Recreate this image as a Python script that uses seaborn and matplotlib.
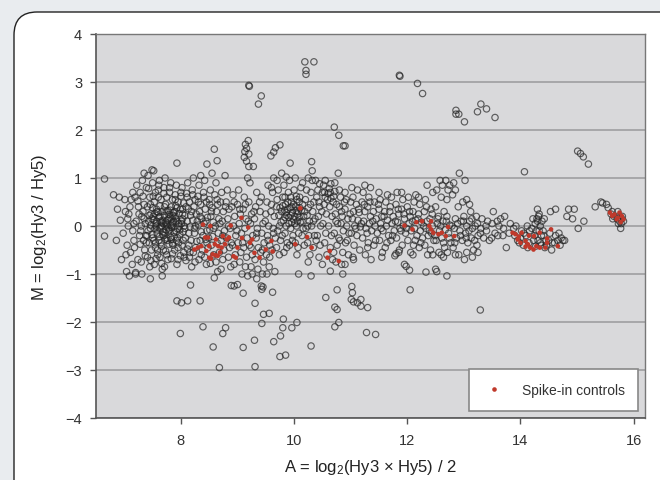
import pandas as pd
import matplotlib.pyplot as plt
import seaborn as sns
from matplotlib.patches import FancyBboxPatch
from matplotlib.lines import Line2D

# -----------------------------
# Data: (A, M) pairs
# -----------------------------
core_pts = [
    (6.88, 0.35), (6.93, 0.12), (6.86, -0.3), (6.95, -0.7), (6.91, 0.6),
    (7.02, 0.3), (6.98, -0.15), (7.05, -0.4), (7.01, 0.55), (7.04, -0.95), (7.07, 0.0),
    (7.12, 0.55), (7.08, 0.25), (7.15, -0.1), (7.11, -0.55), (7.14, -0.8), (7.17, 0.05), (7.1, 0.4),
    (7.22, 0.85), (7.19, 0.6), (7.25, 0.4), (7.21, 0.1), (7.27, -0.2), (7.18, -0.45), (7.24, -0.7),
    (7.26, 0.25), (7.2, -1.0),
    (7.32, 0.95), (7.28, 0.7), (7.35, 0.45), (7.31, 0.2), (7.37, 0.05), (7.29, -0.1), (7.34, -0.3),
    (7.36, -0.5), (7.3, -0.75), (7.33, 0.3), (7.38, -0.2),
    (7.42, 1.05), (7.39, 0.8), (7.45, 0.6), (7.41, 0.4), (7.47, 0.25), (7.43, 0.1), (7.46, -0.05),
    (7.4, -0.2), (7.44, -0.35), (7.48, -0.5), (7.41, -0.65), (7.45, -0.85), (7.49, 0.15), (7.42, -0.1),
    (7.52, 1.15), (7.5, 0.9), (7.55, 0.7), (7.53, 0.5), (7.57, 0.35), (7.51, 0.2), (7.56, 0.05),
    (7.54, -0.05), (7.58, -0.15), (7.52, -0.3), (7.55, -0.45), (7.59, -0.6), (7.53, -0.8),
    (7.57, 0.1), (7.5, -0.25), (7.56, 0.0), (7.58, 0.3),
    (7.62, 0.95), (7.6, 0.75), (7.65, 0.55), (7.63, 0.42), (7.67, 0.3), (7.61, 0.18), (7.66, 0.08),
    (7.64, -0.02), (7.68, -0.12), (7.62, -0.22), (7.65, -0.35), (7.69, -0.5), (7.63, -0.65),
    (7.67, -0.9), (7.6, 0.6), (7.66, 0.0), (7.61, -0.3), (7.68, 0.12),
    (7.72, 1.0), (7.7, 0.8), (7.75, 0.6), (7.73, 0.45), (7.77, 0.32), (7.71, 0.22), (7.76, 0.12),
    (7.74, 0.04), (7.78, -0.04), (7.72, -0.14), (7.75, -0.25), (7.79, -0.38), (7.73, -0.52),
    (7.77, -0.7), (7.71, -0.85), (7.76, 0.0), (7.7, -0.2), (7.78, 0.15), (7.74, 0.3),
    (7.82, 0.9), (7.8, 0.7), (7.85, 0.55), (7.83, 0.4), (7.87, 0.28), (7.81, 0.17), (7.86, 0.07),
    (7.84, -0.03), (7.88, -0.13), (7.82, -0.24), (7.85, -0.36), (7.89, -0.5), (7.83, -0.68),
    (7.87, 0.1), (7.8, -0.08), (7.86, 0.22), (7.84, 0.0),
    (7.92, 0.85), (7.9, 0.65), (7.95, 0.5), (7.93, 0.38), (7.97, 0.26), (7.91, 0.15), (7.96, 0.05),
    (7.94, -0.06), (7.98, -0.17), (7.92, -0.3), (7.95, -0.45), (7.99, -0.62), (7.93, -0.8),
    (7.97, 0.0), (7.9, 0.2),
    (8.02, 0.8), (8.0, 0.62), (8.05, 0.48), (8.03, 0.35), (8.07, 0.22), (8.01, 0.1), (8.06, 0.0),
    (8.04, -0.12), (8.08, -0.25), (8.02, -0.4), (8.05, -0.55), (8.09, -0.72), (8.03, 0.15), (8.07, -0.05),
    (8.12, 0.9), (8.1, 0.68), (8.15, 0.5), (8.13, 0.36), (8.17, 0.22), (8.11, 0.1), (8.16, -0.02),
    (8.14, -0.15), (8.18, -0.3), (8.12, -0.48), (8.15, -0.65), (8.19, -0.85),
    (8.22, 1.0), (8.2, 0.75), (8.25, 0.55), (8.23, 0.4), (8.27, 0.25), (8.21, 0.12), (8.26, 0.0),
    (8.24, -0.15), (8.28, -0.32), (8.22, -0.55), (8.25, -0.75),
    (8.32, 0.85), (8.3, 0.62), (8.35, 0.45), (8.33, 0.3), (8.37, 0.15), (8.31, 0.02), (8.36, -0.12),
    (8.34, -0.3), (8.38, -0.5), (8.32, -0.7), (8.35, 1.05),
    (8.42, 0.95), (8.4, 0.7), (8.45, 0.5), (8.43, 0.35), (8.47, 0.18), (8.41, 0.05), (8.46, -0.1),
    (8.44, -0.28), (8.48, -0.45), (8.42, -0.65), (8.45, -0.8),
    (8.52, 0.75), (8.5, 0.55), (8.55, 0.38), (8.53, 0.2), (8.57, 0.08), (8.51, -0.08), (8.56, -0.22),
    (8.54, -0.4), (8.58, -0.6), (8.52, -0.78), (8.55, 1.1),
]

core_dense = [
    (7.47, 0.02), (7.52, 0.12), (7.58, -0.08), (7.63, 0.2), (7.68, -0.18), (7.73, 0.08), (7.79, -0.1),
    (7.84, 0.15), (7.88, -0.22), (7.93, 0.1), (7.98, -0.08), (8.03, 0.25), (7.5, 0.38), (7.55, -0.35),
    (7.6, 0.28), (7.66, -0.42), (7.71, 0.4), (7.76, -0.3), (7.81, 0.33), (7.86, -0.4), (7.91, 0.42),
    (7.96, -0.35), (8.01, 0.05), (7.44, 0.22), (7.49, -0.18), (7.54, 0.26), (7.59, -0.5), (7.64, 0.1),
    (7.69, 0.05), (7.74, -0.08), (7.79, 0.24), (7.83, -0.28), (7.89, 0.3), (7.94, -0.25), (7.99, 0.35),
    (8.04, -0.3), (7.62, -0.05), (7.72, -0.28), (7.82, 0.02), (7.92, -0.12),
    (7.24, 0.52), (7.28, -0.38), (7.33, 0.62), (7.37, -0.62), (7.43, 0.78), (7.47, -0.72), (7.51, 0.62),
    (7.56, -0.68), (7.61, 0.85), (7.66, -0.78), (7.7, 0.68), (7.75, -0.6), (7.8, 0.8), (7.85, -0.58),
    (7.9, 0.55), (7.95, -0.7), (8.0, 0.7), (8.06, -0.65), (8.11, 0.6), (8.16, -0.55), (8.21, 0.65),
    (8.26, -0.45), (8.31, 0.5), (8.36, -0.6), (8.41, 0.6), (8.46, -0.35), (8.51, 0.45), (7.3, 0.0),
    (7.35, 0.15), (7.39, -0.35), (7.46, 0.45), (8.09, 0.4), (8.14, -0.4), (8.19, 0.3), (8.24, -0.05),
    (8.29, 0.1), (8.34, 0.2), (8.39, -0.2), (8.44, 0.1), (8.49, -0.25), (8.54, 0.3), (8.58, -0.05),
    (7.15, 0.7), (7.17, -0.3), (7.06, 0.15), (7.03, -0.6),
]

mid_pts = [
    (8.62, 0.9), (8.6, 0.65), (8.65, 0.45), (8.63, 0.3), (8.67, 0.15), (8.61, 0.0), (8.66, -0.15),
    (8.64, -0.35), (8.68, -0.55), (8.62, -0.75), (8.65, -0.95),
    (8.72, 0.7), (8.7, 0.5), (8.75, 0.3), (8.73, 0.1), (8.77, -0.1), (8.71, -0.3), (8.76, -0.5),
    (8.74, -0.7), (8.78, 1.05),
    (8.82, 0.75), (8.8, 0.5), (8.85, 0.35), (8.83, 0.15), (8.87, -0.05), (8.81, -0.25), (8.86, -0.45),
    (8.84, -0.65), (8.88, -0.85),
    (8.92, 0.65), (8.9, 0.4), (8.95, 0.2), (8.93, 0.0), (8.97, -0.2), (8.91, -0.4), (8.96, -0.6), (8.94, -0.8),
    (9.02, 0.75), (9.0, 0.45), (9.05, 0.25), (9.03, 0.05), (9.07, -0.15), (9.01, -0.35), (9.06, -0.55),
    (9.04, -0.75), (9.08, -1.0),
    (9.12, 0.6), (9.1, 0.35), (9.15, 0.15), (9.13, -0.05), (9.17, -0.25), (9.11, -0.45), (9.16, -0.65),
    (9.14, -0.85), (9.18, 1.0),
    (9.22, 0.9), (9.2, 0.5), (9.25, 0.25), (9.23, 0.05), (9.27, -0.2), (9.21, -0.4), (9.26, -0.6), (9.24, -0.85),
    (9.32, 0.4), (9.3, 0.15), (9.35, -0.05), (9.33, -0.25), (9.37, -0.45), (9.31, -0.7), (9.36, -0.9), (9.34, 0.7),
    (9.42, 0.6), (9.4, 0.3), (9.45, 0.05), (9.43, -0.15), (9.47, -0.35), (9.41, -0.55), (9.46, -0.75), (9.44, -1.0),
    (9.52, 0.5), (9.5, 0.25), (9.55, 0.0), (9.53, -0.2), (9.57, -0.4), (9.51, -0.6), (9.56, -0.85), (9.54, 0.85),
    (9.62, 0.7), (9.6, 0.45), (9.65, 0.2), (9.63, -0.05), (9.67, -0.25), (9.61, -0.5), (9.66, -0.95), (9.64, 1.0),
    (9.72, 0.75), (9.7, 0.55), (9.75, 0.38), (9.73, 0.22), (9.77, 0.08), (9.71, -0.1), (9.76, -0.3),
    (9.74, -0.6), (9.78, 1.1),
    (9.82, 0.85), (9.8, 0.6), (9.85, 0.45), (9.83, 0.33), (9.87, 0.22), (9.81, 0.12), (9.86, 0.0),
    (9.84, -0.15), (9.88, -0.35), (9.82, -0.55),
    (9.92, 0.95), (9.9, 0.7), (9.95, 0.5), (9.93, 0.38), (9.97, 0.28), (9.91, 0.18), (9.96, 0.08),
    (9.94, -0.05), (9.98, -0.2), (9.92, -0.4),
    (10.02, 1.0), (10.0, 0.75), (10.05, 0.55), (10.03, 0.4), (10.07, 0.3), (10.01, 0.2), (10.06, 0.1),
    (10.04, 0.0), (10.08, -0.15), (10.02, -0.35), (10.05, -0.6),
    (10.12, 0.8), (10.1, 0.6), (10.15, 0.45), (10.13, 0.32), (10.17, 0.2), (10.11, 0.08), (10.16, -0.05),
    (10.14, -0.2), (10.18, -0.4),
    (10.22, 0.75), (10.2, 0.55), (10.25, 0.38), (10.23, 0.22), (10.27, 0.1), (10.21, -0.05), (10.26, -0.2),
    (10.24, -0.35), (10.28, -0.6),
    (10.32, 0.95), (10.3, 0.7), (10.35, 0.5), (10.33, 0.3), (10.37, 0.15), (10.31, 0.0), (10.36, -0.2), (10.34, -0.45),
    (10.42, 0.75), (10.4, 0.6), (10.45, 0.4), (10.43, 0.2), (10.47, 0.0), (10.41, -0.2), (10.46, -0.4), (10.44, -0.65),
    (10.52, 0.85), (10.5, 0.7), (10.55, 0.6), (10.53, 0.45), (10.57, 0.25), (10.51, 0.05), (10.56, -0.15),
    (10.54, -0.35), (10.58, -0.6),
    (10.62, 0.78), (10.6, 0.68), (10.65, 0.58), (10.63, 0.4), (10.67, 0.2), (10.61, 0.0), (10.66, -0.2),
    (10.64, -0.45), (10.68, -0.7),
    (10.72, 0.72), (10.7, 0.62), (10.75, 0.45), (10.73, 0.25), (10.77, 0.05), (10.71, -0.15), (10.76, -0.4),
    (10.74, -0.75), (10.78, 1.1),
    (10.82, 0.6), (10.8, 0.4), (10.85, 0.2), (10.83, 0.05), (10.87, -0.1), (10.81, -0.3), (10.86, -0.55), (10.84, -0.8),
    (10.92, 0.55), (10.9, 0.35), (10.95, 0.15), (10.93, 0.0), (10.97, -0.15), (10.91, -0.35), (10.96, -0.6),
    (9.78, 0.3), (9.84, 0.18), (9.89, 0.35), (9.94, 0.22), (9.99, 0.14), (10.04, 0.32), (10.09, 0.18),
    (9.86, 0.28), (9.91, 0.05), (9.96, 0.4), (10.01, 0.05), (10.06, 0.25), (9.8, 0.42), (10.1, 0.38),
]

mid_fill = [
    (8.64, 0.55), (8.69, 0.05), (8.74, -0.2), (8.79, 0.4), (8.84, 0.0), (8.89, -0.35), (8.94, 0.5),
    (8.99, -0.1), (9.04, 0.35), (9.09, -0.35), (9.14, 0.45), (9.19, 0.1), (9.24, -0.45), (9.29, 0.3),
    (9.34, -0.15), (9.39, 0.5), (9.44, -0.5), (9.49, 0.1), (9.54, -0.3), (9.59, 0.3), (9.64, -0.15),
    (9.69, 0.4), (9.74, 0.0), (9.79, -0.2), (9.84, 0.6), (9.89, 0.5), (9.94, 0.6), (9.99, 0.45),
    (10.04, 0.62), (10.09, 0.5), (10.14, 0.1), (10.19, 0.3), (10.24, 0.0), (10.29, 0.45), (10.34, 0.1),
    (10.39, -0.3), (10.44, 0.5), (10.49, 0.3), (10.54, 0.7), (10.59, 0.55), (10.64, 0.7), (10.69, 0.5),
    (10.74, 0.1), (10.79, -0.25), (10.84, 0.3), (10.89, 0.5), (10.94, -0.3), (10.99, 0.25), (9.97, -0.3),
    (10.07, -0.45), (9.87, -0.45), (9.69, -0.45), (10.45, 0.88), (10.55, 0.95), (10.65, 0.88), (10.72, 0.9),
    (10.38, 0.95), (9.7, 0.95), (9.86, 1.02), (9.6, 0.8), (10.15, 0.9), (10.25, 1.0), (10.32, 1.15),
    (10.8, 0.75), (10.9, 0.7), (9.52, -1.0), (9.57, -0.65), (9.26, -1.0), (10.25, -0.75), (10.5, -0.8),
    (10.7, -0.55), (10.9, -0.8),
]

band_pts = [
    (11.02, 0.8), (11.0, 0.5), (11.05, 0.3), (11.03, 0.15), (11.07, 0.0), (11.01, -0.15), (11.06, -0.4), (11.04, -0.65),
    (11.12, 0.75), (11.1, 0.45), (11.15, 0.28), (11.13, 0.12), (11.17, -0.02), (11.11, -0.2), (11.16, -0.5),
    (11.22, 0.7), (11.2, 0.5), (11.25, 0.3), (11.23, 0.1), (11.27, -0.05), (11.21, -0.25), (11.26, -0.6),
    (11.32, 0.6), (11.3, 0.4), (11.35, 0.2), (11.33, 0.05), (11.37, -0.1), (11.31, -0.35), (11.36, -0.7),
    (11.42, 0.5), (11.4, 0.3), (11.45, 0.15), (11.43, 0.0), (11.47, -0.15), (11.41, -0.4),
    (11.52, 0.55), (11.5, 0.35), (11.55, 0.2), (11.53, 0.05), (11.57, -0.1), (11.51, -0.3), (11.56, -0.55),
    (11.62, 0.5), (11.6, 0.3), (11.65, 0.12), (11.63, 0.0), (11.67, -0.2), (11.61, -0.45),
    (11.72, 0.6), (11.7, 0.4), (11.75, 0.2), (11.73, 0.05), (11.77, -0.1), (11.71, -0.3),
    (11.82, 0.7), (11.8, 0.45), (11.85, 0.25), (11.83, 0.08), (11.87, -0.05), (11.81, -0.25), (11.86, -0.5),
    (11.92, 0.55), (11.9, 0.35), (11.95, 0.15), (11.93, 0.0), (11.97, -0.15), (11.91, -0.4),
    (12.02, 0.6), (12.0, 0.4), (12.05, 0.2), (12.03, 0.05), (12.07, -0.1), (12.01, -0.3), (12.06, -0.55),
    (12.12, 0.5), (12.1, 0.3), (12.15, 0.12), (12.13, -0.05), (12.17, -0.2), (12.11, -0.4),
    (12.22, 0.45), (12.2, 0.25), (12.25, 0.08), (12.23, -0.1), (12.27, -0.25), (12.21, -0.45),
    (12.32, 0.55), (12.3, 0.3), (12.35, 0.1), (12.33, -0.05), (12.37, -0.2), (12.31, -0.4), (12.36, -0.6),
    (12.42, 0.35), (12.4, 0.15), (12.45, 0.0), (12.43, -0.15), (12.47, -0.3), (12.41, -0.5),
    (12.52, 0.75), (12.5, 0.4), (12.55, 0.2), (12.53, 0.05), (12.57, -0.1), (12.51, -0.3), (12.56, -0.55),
    (12.62, 0.85), (12.6, 0.6), (12.65, 0.3), (12.63, 0.1), (12.67, -0.08), (12.61, -0.25), (12.66, -0.45), (12.64, -0.65),
    (12.72, 0.75), (12.7, 0.2), (12.75, 0.02), (12.73, -0.15), (12.77, -0.35), (12.71, -0.55),
    (12.82, 0.9), (12.8, 0.65), (12.85, 0.15), (12.83, -0.05), (12.87, -0.25), (12.81, -0.45),
    (12.92, 1.1), (12.9, 0.4), (12.95, 0.1), (12.93, -0.1), (12.97, -0.3), (12.91, -0.6),
    (13.02, 0.95), (13.0, 0.2), (13.05, 0.0), (13.03, -0.15), (13.07, -0.35), (13.01, -0.7),
    (13.12, 0.3), (13.1, 0.1), (13.15, -0.05), (13.13, -0.25), (13.17, -0.5),
    (13.22, 0.2), (13.2, 0.0), (13.25, -0.2), (13.23, -0.4),
    (13.32, 0.15), (13.3, -0.05), (13.35, -0.25),
    (13.42, 0.1), (13.4, -0.1), (13.45, -0.3),
    (13.52, 0.3), (13.5, 0.05), (13.55, -0.15),
    (13.62, 0.0), (13.6, -0.2), (13.65, 0.15),
    (13.72, 0.2), (13.7, -0.05), (13.75, -0.45),
    (13.82, 0.05), (13.8, -0.15),
]

band_fill = [
    (11.04, 0.6), (11.09, -0.05), (11.14, 0.35), (11.19, 0.05), (11.24, 0.45), (11.29, -0.15), (11.34, 0.5),
    (11.39, 0.1), (11.44, -0.3), (11.49, 0.45), (11.54, -0.05), (11.59, 0.2), (11.64, -0.35), (11.69, 0.3),
    (11.74, -0.2), (11.79, 0.1), (11.84, 0.35), (11.89, -0.1), (11.94, 0.25), (11.99, -0.05), (12.04, 0.3),
    (12.09, 0.1), (12.14, -0.3), (12.19, 0.15), (12.24, -0.35), (12.29, 0.0), (12.34, 0.4), (12.39, -0.1),
    (12.44, 0.25), (12.49, -0.2), (12.54, 0.15), (12.59, 0.0), (12.64, -0.35), (12.69, 0.1), (12.74, -0.25),
    (12.79, 0.0), (12.84, -0.35), (12.89, 0.05), (12.94, -0.2), (12.99, 0.1), (13.04, -0.25), (13.09, -0.1),
    (13.14, 0.15), (13.19, -0.3), (13.24, 0.05), (13.29, -0.15), (13.39, 0.0), (13.49, -0.25), (13.59, 0.1),
    (13.69, -0.2), (11.65, 0.65), (11.9, 0.7), (12.15, 0.65), (12.35, 0.85), (12.45, 0.7), (12.58, 0.95),
    (12.68, 0.95), (12.75, 0.85), (12.85, 0.75), (12.98, 0.5), (13.05, 0.55), (13.1, 0.45), (12.7, 0.55),
    (12.2, 0.6), (11.5, 0.7), (11.25, 0.85), (11.35, 0.8), (11.05, -0.7), (11.3, -0.45), (11.55, -0.65),
    (11.85, -0.55), (12.1, -0.6), (12.45, -0.6), (12.6, -0.6), (12.85, -0.6), (13.05, -0.55), (13.15, -0.65),
    (13.25, -0.55),
]

high_a_pts = [
    (13.92, 0.0), (13.9, -0.2), (13.95, -0.3),
    (14.02, -0.1), (14.0, -0.25), (14.05, -0.4),
    (14.12, 0.0), (14.1, -0.2), (14.15, -0.35), (14.13, -0.45),
    (14.22, 0.15), (14.2, -0.05), (14.25, -0.2), (14.23, -0.3), (14.27, -0.42),
    (14.32, 0.2), (14.3, 0.1), (14.35, 0.0), (14.33, -0.1), (14.37, -0.2), (14.31, -0.3), (14.36, -0.4),
    (14.42, 0.15), (14.4, -0.1), (14.45, -0.3), (14.43, -0.45),
    (14.52, -0.15), (14.5, -0.3), (14.55, -0.5), (14.53, 0.3),
    (14.62, -0.2), (14.6, -0.35),
    (14.72, -0.25), (14.7, -0.4), (14.75, -0.3),
    (14.82, 0.2), (14.85, 0.35),
    (14.92, 0.15), (15.02, -0.05), (15.12, 0.1),
    (15.32, 0.4), (15.42, 0.5), (15.45, 0.48), (15.52, 0.45), (15.55, 0.38),
    (15.62, 0.3), (15.6, 0.25), (15.65, 0.2), (15.63, 0.15),
    (15.72, 0.3), (15.7, 0.2), (15.75, 0.1), (15.73, 0.05), (15.77, -0.05), (15.71, 0.15),
    (15.8, 0.2), (15.82, 0.1), (15.78, 0.05), (15.79, 0.15),
    (14.06, -0.15), (14.16, -0.1), (14.26, 0.05), (14.28, -0.1), (14.38, 0.1), (14.41, -0.2),
    (14.46, -0.4), (14.56, -0.35), (14.66, -0.3), (14.68, -0.15), (14.78, -0.3), (14.33, 0.25),
    (14.29, 0.15), (14.35, -0.35), (13.98, -0.35), (13.88, -0.05), (14.95, 0.35), (14.3, 0.35),
    (14.62, 0.35),
]

outlier_pts = [
    (6.65, 0.98), (6.65, -0.21), (6.81, 0.65), (7.35, 1.1), (7.49, 1.17), (7.93, 1.31),
    (8.46, 1.29), (8.59, 1.6), (8.64, 1.36),
    (9.14, 1.7), (9.19, 1.78), (9.16, 1.62), (9.13, 1.55), (9.2, 1.5), (9.12, 1.43), (9.16, 1.35),
    (9.2, 1.24), (9.28, 1.24), (9.67, 1.63), (9.75, 1.69), (9.64, 1.54), (9.59, 1.46),
    (9.93, 1.31), (10.31, 1.34),
    (10.19, 3.42), (10.35, 3.42), (10.21, 3.24), (10.21, 3.16), (9.2, 2.93), (9.21, 2.91),
    (9.42, 2.71), (9.37, 2.54), (11.86, 3.14), (11.87, 3.12), (12.18, 2.97), (12.27, 2.76),
    (12.86, 2.41), (12.91, 2.33), (12.86, 2.33), (13.01, 2.17), (13.24, 2.38), (13.3, 2.54),
    (13.4, 2.44), (13.55, 2.26), (10.71, 2.06), (10.79, 1.89), (10.87, 1.67), (10.9, 1.67),
    (15.01, 1.56), (15.06, 1.51), (15.11, 1.44), (15.2, 1.29), (14.07, 1.13),
    (7.99, -2.24), (7.93, -1.56), (8.01, -1.6), (8.12, -1.56), (8.34, -1.56),
    (8.39, -2.1), (8.57, -2.52), (8.68, -2.95), (8.74, -2.24), (8.79, -2.12),
    (9.1, -2.53), (9.3, -2.38), (9.31, -2.93), (9.31, -1.61), (9.43, -2.03), (9.46, -1.84),
    (9.56, -1.82), (9.64, -2.41), (9.76, -2.29), (9.8, -2.12), (9.75, -2.72), (9.85, -2.69),
    (9.96, -2.12), (10.05, -2.01), (9.81, -1.94), (10.3, -2.5),
    (10.72, -2.1), (10.79, -2.01), (10.72, -1.69), (10.76, -1.74), (10.56, -1.49),
    (11.02, -1.26), (11.03, -1.39), (11.01, -1.53), (11.05, -1.58), (11.12, -1.6), (11.18, -1.53),
    (11.18, -1.67), (11.3, -1.7), (11.28, -2.22), (11.44, -2.26), (10.76, -1.33),
    (12.05, -1.33), (13.29, -1.75),
    (8.89, -1.24), (8.94, -1.25), (9.0, -1.22), (9.1, -1.4), (9.18, -1.04), (9.34, -1.1),
    (9.42, -1.25), (9.43, -1.32), (9.45, -1.27), (9.62, -1.38), (8.17, -1.23),
    (7.09, -1.04), (7.2, -0.97), (7.31, -1.0), (7.46, -1.1), (7.67, -1.04),
    (8.59, -1.08), (8.71, -0.9), (10.08, -1.0), (10.3, -1.04), (10.64, -0.94), (10.86, -1.0),
    (11.95, -0.8), (11.98, -0.84), (12.04, -0.92), (12.33, -0.96), (12.5, -0.9), (12.52, -0.95),
    (12.7, -1.04), (11.78, -0.62), (11.8, -0.58),
]

spike_pts = [
    (8.39, 0.03), (8.52, 0.0), (8.43, -0.24), (8.48, -0.24), (8.24, -0.49), (8.3, -0.45), (8.36, -0.42),
    (8.45, -0.52), (8.5, -0.42), (8.56, -0.59), (8.6, -0.38), (8.5, -0.66), (8.53, -0.68), (8.61, -0.61),
    (8.65, -0.62), (8.69, -0.55), (8.62, -0.28), (8.66, -0.42), (8.72, -0.45), (8.78, -0.38),
    (8.81, -0.28), (8.85, -0.24), (8.74, -0.21), (8.88, 0.01), (8.93, -0.63), (8.97, -0.66),
    (9.0, -0.45), (9.07, 0.17), (9.19, -0.03), (9.08, -0.25), (9.26, -0.28), (9.22, -0.35),
    (9.3, -0.56), (9.39, -0.66), (9.5, -0.49), (9.6, -0.31), (9.62, -0.53),
    (10.11, 0.37), (10.02, -0.38), (10.23, -0.23), (10.31, -0.45), (10.59, -0.66), (10.63, -0.52),
    (10.79, -0.73), (11.95, 0.01), (12.09, -0.07), (12.16, 0.08), (12.26, 0.1), (12.39, 0.0),
    (12.42, -0.07), (12.46, -0.14), (12.55, -0.17), (12.61, -0.14), (12.68, -0.21), (12.72, -0.02),
    (12.83, -0.21), (12.42, 0.1),
    (13.86, -0.14), (13.91, -0.17), (13.97, -0.22), (14.02, -0.14), (13.95, -0.28), (14.0, -0.35),
    (14.09, -0.31), (14.13, -0.38), (14.17, -0.45), (14.23, -0.49), (14.28, -0.42), (14.34, -0.45),
    (14.44, -0.45), (14.47, -0.35), (14.54, -0.07), (14.34, -0.14), (14.24, -0.21), (14.15, -0.2),
    (14.09, -0.43), (14.66, -0.42), (14.47, -0.26),
    (15.58, 0.28), (15.62, 0.21), (15.66, 0.24), (15.72, 0.17), (15.75, 0.28), (15.79, 0.21),
    (15.7, 0.14), (15.82, 0.14), (15.77, 0.08),
]

grey = pd.DataFrame(core_pts + core_dense + mid_pts + mid_fill + band_pts + band_fill
                    + high_a_pts + outlier_pts, columns=["A", "M"])
spikes = pd.DataFrame(spike_pts, columns=["A", "M"])

# -----------------------------
# Figure
# -----------------------------
sns.set_theme(style="white")
plt.rcParams["font.family"] = ["Liberation Sans", "DejaVu Sans"]
plt.rcParams["mathtext.fontset"] = "custom"
plt.rcParams["mathtext.rm"] = "Liberation Sans"
plt.rcParams["mathtext.default"] = "regular"

fig = plt.figure(figsize=(6.6, 4.81), dpi=100)
fig.patch.set_facecolor("#e9ecef")

# white card with rounded corners behind the plot
card = FancyBboxPatch((14 / 660, -0.2), 700 / 660 - 14 / 660, 1.2 - 13 / 481,
                      boxstyle="round,pad=0,rounding_size=0.035",
                      transform=fig.transFigure, facecolor="white",
                      edgecolor="#222222", linewidth=1.0, zorder=-5,
                      mutation_aspect=660 / 481)
fig.patches.append(card)

ax = fig.add_axes([96 / 660, 1 - 419 / 481, 549 / 660, 384 / 481])
ax.set_zorder(2)
ax.set_facecolor("#d9d9db")

sns.scatterplot(data=grey, x="A", y="M", ax=ax, marker="o", s=21,
                facecolor="none", edgecolor="#262626", linewidth=0.85,
                alpha=0.7, zorder=3, legend=False)
sns.scatterplot(data=spikes, x="A", y="M", ax=ax, marker="o", s=11,
                color="#c0392b", edgecolor="none", zorder=4, legend=False)

ax.set_xlim(6.5, 16.2)
ax.set_ylim(-4, 4)
ax.set_xticks([8, 10, 12, 14, 16])
ax.set_yticks([-4, -3, -2, -1, 0, 1, 2, 3, 4])
ax.set_yticklabels(["\u22124", "\u22123", "\u22122", "\u22121", "0", "1", "2", "3", "4"])
ax.yaxis.grid(True, color="#a3a3a5", linewidth=1.3, zorder=1)
ax.set_axisbelow(True)

for side in ["left", "bottom"]:
    ax.spines[side].set_color("#555555")
    ax.spines[side].set_linewidth(1.2)
for side in ["top", "right"]:
    ax.spines[side].set_color("#777777")
    ax.spines[side].set_linewidth(1.0)

ax.tick_params(axis="both", which="major", length=4, width=1, color="#555555",
               labelsize=10.5, labelcolor="#333333", direction="out",
               left=True, bottom=True)
ax.tick_params(axis="y", pad=6)
ax.tick_params(axis="x", pad=7)

ax.set_xlabel("A = log$_2$(Hy3 \u00d7 Hy5) / 2", fontsize=12, color="#222222", labelpad=7)
ax.set_ylabel("M = log$_2$(Hy3 / Hy5)", fontsize=12, color="#222222", labelpad=12)

handle = Line2D([], [], marker="o", linestyle="none", markersize=3.3,
                markerfacecolor="#c0392b", markeredgecolor="none")
leg = ax.legend([handle], ["Spike-in controls"], loc="lower right",
                bbox_to_anchor=(0.988, 0.018), borderaxespad=0, fancybox=False,
                frameon=True, fontsize=10, borderpad=1.0, handletextpad=1.2,
                handlelength=1.6, framealpha=1)
leg.get_frame().set_edgecolor("#888888")
leg.get_frame().set_linewidth(1.2)
for t in leg.get_texts():
    t.set_color("#333333")

plt.savefig("out.png", dpi=100, facecolor=fig.get_facecolor())
